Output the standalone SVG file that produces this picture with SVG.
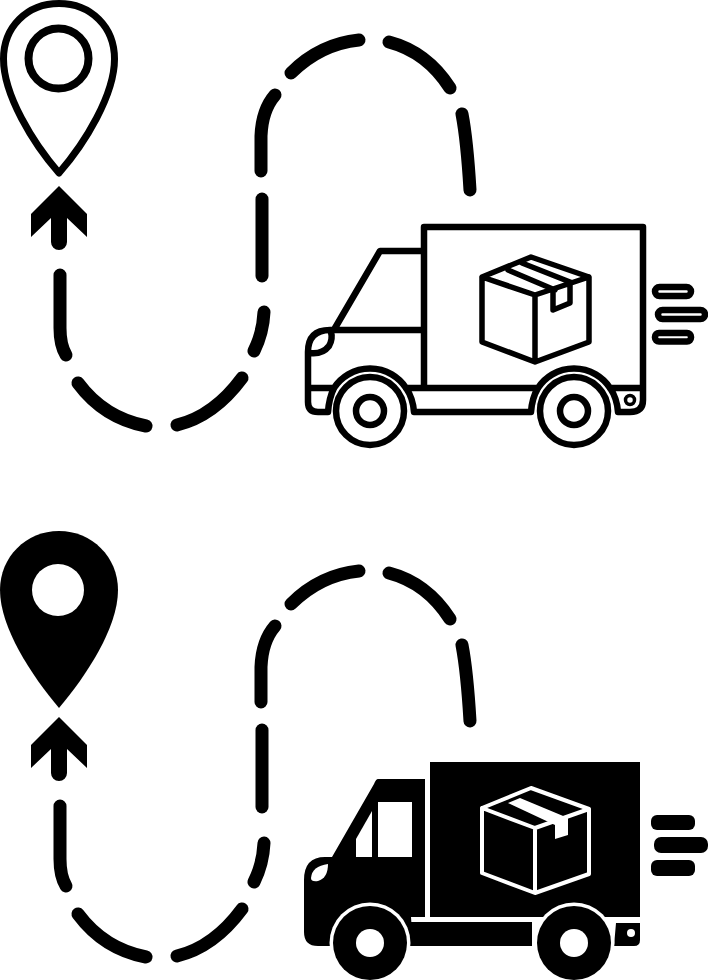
<svg xmlns="http://www.w3.org/2000/svg" width="708" height="980" viewBox="0 0 708 980">
<style>
.o{fill:none;stroke:#000;stroke-width:6.500;stroke-linejoin:round;stroke-linecap:round}
.b{stroke-width:5.500}
.d{fill:none;stroke:#000;stroke-width:13;stroke-linecap:round}
.k{fill:#000}
.w{fill:#fff}
.ws{fill:none;stroke:#fff;stroke-width:4;stroke-linejoin:round;stroke-linecap:round}
.g{fill:#fff;stroke:#fff;stroke-width:3}
</style>
<defs>
<g id="route">
<path class="d" d="M60 275V328Q60 345 66 355"/>
<path class="d" d="M78 383Q104 418 146 426"/>
<path class="d" d="M177 425Q214 416 242 378"/>
<path class="d" d="M254 351Q263 333 264 312"/>
<path class="d" d="M262 199V276"/>
<path class="d" d="M261 171V136Q262 110 275 95"/>
<path class="d" d="M291 73Q320 44 359 40"/>
<path class="d" d="M389 42Q427 52 450 88"/>
<path class="d" d="M462 114Q467 140 470 190"/>
</g>
<g id="arrow">
<path class="k" d="M59 186L87 214V237L67 218V242A8 8 0 0 1 51 242V218L31 237V214Z"/>
</g>
</defs>
<g id="route-top"><use href="#route"/></g>
<g id="arrow-top"><use href="#arrow"/></g>
<g id="pin-top">
<path class="o" style="stroke-width:7" d="M59 3.500C27 3.500 3.500 27 3.500 59C3.500 95 33 143 59 173C85 143 114.500 95 114.500 59C114.500 27 91 3.500 59 3.500Z"/>
<circle cx="58.500" cy="58.500" r="30" fill="none" stroke="#000" stroke-width="8"/>
</g>
<g id="truck-top">
<path class="o" d="M424 388V227H643V400Q643 412 630 412H618Q617 398 610 388A43 43 0 0 0 538 388Q532 398 531 412H414Q413 398 406 388A43 43 0 0 0 334 388Q329 398 328 412H318Q308 412 308 402V352Q308 330 330 330H424M335 328L380 251H424M308 388H334M406 388H538M610 388H643"/>
<path class="o" d="M309 353Q322 355 329 346Q333 339 331 332"/>
<circle class="o" cx="370" cy="411" r="34"/>
<circle class="o" cx="370" cy="411" r="14"/>
<circle class="o" cx="574" cy="411" r="34"/>
<circle class="o" cx="574" cy="411" r="14"/>
<circle cx="630" cy="400" r="4.500" fill="none" stroke="#000" stroke-width="3.500"/>
<path class="o b" d="M531 257L589 277V342L535 362L482 342V277ZM482 277L535 295L589 277M535 295V362M508 270L555 290M522 263L570 282M553 291V310L570 303V282"/>
<rect class="o" x="655" y="287" width="36" height="9" rx="4.500"/>
<rect class="o" x="658" y="310" width="47" height="9" rx="4.500"/>
<rect class="o" x="655" y="333" width="36" height="8.500" rx="4"/>
</g>
<g id="route-bottom"><use href="#route" y="531"/></g>
<g id="arrow-bottom"><use href="#arrow" y="531"/></g>
<g id="pin-bottom">
<path class="k" d="M59 531C26 531 0 557 0 590C0 628 32 676 59 708C86 676 118 628 118 590C118 557 92 531 59 531Z"/>
<circle class="w" cx="58" cy="590" r="26"/>
</g>
<g id="truck-bottom">
<rect class="k" x="430" y="762" width="210" height="155"/>
<path class="k" d="M378 779H425V917H411L413 946H318Q304 946 304 932V880Q304 857 325 857H332L374 784Q376 779 378 779Z"/>
<path class="k" d="M411 922H532V946H411ZM616 923H640V940Q640 946 634 946H614Z"/>
<circle class="w" cx="370" cy="943" r="40.500"/>
<circle class="w" cx="574" cy="943" r="40.500"/>
<circle class="k" cx="370" cy="943" r="37"/>
<circle class="k" cx="574" cy="943" r="37"/>
<circle class="w" cx="370" cy="943" r="14"/>
<circle class="w" cx="574" cy="943" r="14"/>
<circle class="w" cx="631" cy="933" r="4"/>
<rect class="w" x="378" y="802" width="34" height="55"/>
<path class="w" d="M372 811V857H356V839Z"/>
<path class="w" d="M311 878Q312 866 328 864Q328 878 318 881Q311 882 311 878Z"/>
<path class="ws" d="M531 788L589 809V874L535 893L482 873V808ZM482 808L535 828L589 809M535 828V893"/>
<path class="w" d="M508 803L520 798L568 818V835L555 839V825Z"/>
<rect class="k" x="651" y="815" width="44" height="15" rx="6"/>
<rect class="k" x="654" y="837" width="54" height="16" rx="7"/>
<rect class="k" x="651" y="860" width="44" height="16" rx="6"/>
</g>
</svg>
